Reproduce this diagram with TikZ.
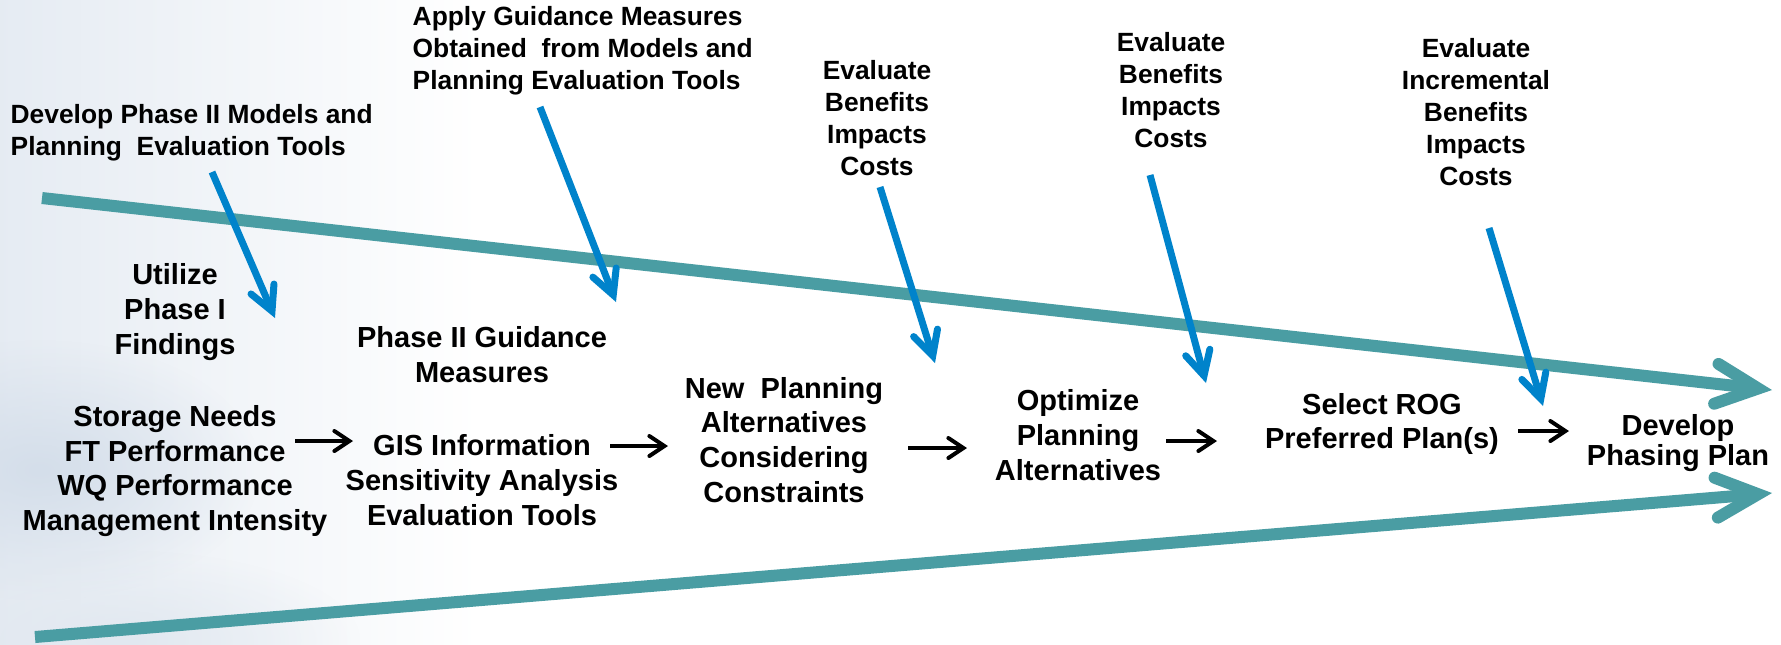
\documentclass[tikz,border=0pt]{standalone}
\usepackage{fontspec}
\setmainfont{Liberation Sans}
\usetikzlibrary{arrows.meta,fadings}

\definecolor{bandteal}{RGB}{74,157,163}
\definecolor{feedblue}{RGB}{0,131,203}
\definecolor{cloudgray}{RGB}{212,222,234}

\tikzfading[name=cloudfade, inner color=transparent!0, outer color=transparent!100]

\begin{document}
\begin{tikzpicture}[
    x=0.01cm, y=-0.01cm,
    lbl/.style={inner sep=0pt, align=center, font=\bfseries\fontsize{7.5}{9.05}\selectfont},
    stage/.style={inner sep=0pt, align=center, font=\bfseries\fontsize{8.25}{9.9}\selectfont},
    band/.style={draw=bandteal, line width=0.12cm, -{Straight Barb[length=0.42cm, width=0.40cm, line cap=round, line join=miter]}},
    feed/.style={draw=feedblue, line width=0.07cm, -{Straight Barb[length=0.24cm, width=0.25cm, line cap=round, line join=miter]}},
    flow/.style={draw=black, line width=0.04cm, -{Straight Barb[length=0.15cm, width=0.20cm, line cap=round, line join=miter]}},
  ]
    % background
    \useasboundingbox (0,0) rectangle (1781,644);
    \fill[white] (0,0) rectangle (1781,644);
    \shade[left color=cloudgray!60, right color=white] (0,0) rectangle (480,644);
    \fill[cloudgray, path fading=cloudfade] (40,470) ellipse [x radius=2.2cm, y radius=1.3cm];
    \fill[cloudgray!70, path fading=cloudfade] (120,640) ellipse [x radius=2.4cm, y radius=0.9cm];

    % the two bands
    \coordinate (topstart) at (42,198);
    \coordinate (topend) at (1772,390);
    \coordinate (botstart) at (35,637);
    \coordinate (botend) at (1772,493);
    \draw[band] (topstart) -- (topend);
    \draw[band] (botstart) -- (botend);

    % inputs on top
    \node[lbl, anchor=west, align=left] (devmod) at (10,133) {Develop Phase II Models and\\Planning\ \ Evaluation Tools};
    \node[lbl, anchor=west, align=left] (apply) at (412,51) {Apply Guidance Measures\\Obtained\ \ from Models and\\Planning Evaluation Tools};
    \node[lbl] (eval1) at (877,118) {Evaluate\\Benefits\\Impacts\\Costs};
    \node[lbl] (eval2) at (1171,90) {Evaluate\\Benefits\\Impacts\\Costs};
    \node[lbl] (eval3) at (1476,112) {Evaluate\\Incremental\\Benefits\\Impacts\\Costs};

    % stages
    \node[stage] (utilize) at (175,312) {Utilize\\Phase I\\Findings};
    \node[stage] (guide) at (482,355) {Phase II Guidance\\Measures};
    \node[stage] (needs) at (175,471) {Storage Needs\\FT Performance\\WQ Performance\\Management Intensity};
    \node[stage] (gis) at (482,480) {GIS Information\\Sensitivity Analysis\\Evaluation Tools};
    \node[stage] (newalt) at (784,440) {New\ \ Planning\\Alternatives\\Considering\\Constraints};
    \node[stage] (optim) at (1078,435) {Optimize\\Planning\\Alternatives};
    \node[stage] (select) at (1382,424) {Select ROG\\Preferred Plan(s)};
    \node[stage, font=\bfseries\fontsize{8.25}{8.3}\selectfont] (phasing) at (1678,443) {Develop\\Phasing Plan};

    % blue feeds
    \coordinate (devmod-out) at (212,172);
    \coordinate (utilize-in) at (275,318);
    \coordinate (apply-out) at (540,107);
    \coordinate (guide-in) at (616,302);
    \coordinate (eval1-out) at (880,187);
    \coordinate (newalt-in) at (935,363);
    \coordinate (eval2-out) at (1150,175);
    \coordinate (optim-in) at (1206,383);
    \coordinate (eval3-out) at (1489,228);
    \coordinate (select-in) at (1543,406);
    \draw[feed] (devmod-out) -- (utilize-in);
    \draw[feed] (apply-out) -- (guide-in);
    \draw[feed] (eval1-out) -- (newalt-in);
    \draw[feed] (eval2-out) -- (optim-in);
    \draw[feed] (eval3-out) -- (select-in);

    % black steps
    \coordinate (needs-e) at (295,441);
    \coordinate (gis-w) at (353,441);
    \coordinate (gis-e) at (610,446);
    \coordinate (newalt-w) at (668,446);
    \coordinate (newalt-e) at (908,448);
    \coordinate (optim-w) at (967,448);
    \coordinate (optim-e) at (1166,441);
    \coordinate (select-w) at (1217,441);
    \coordinate (select-e) at (1518,431);
    \coordinate (phasing-w) at (1569,431);
    \draw[flow] (needs-e) -- (gis-w);
    \draw[flow] (gis-e) -- (newalt-w);
    \draw[flow] (newalt-e) -- (optim-w);
    \draw[flow] (optim-e) -- (select-w);
    \draw[flow] (select-e) -- (phasing-w);
\end{tikzpicture}
\end{document}
